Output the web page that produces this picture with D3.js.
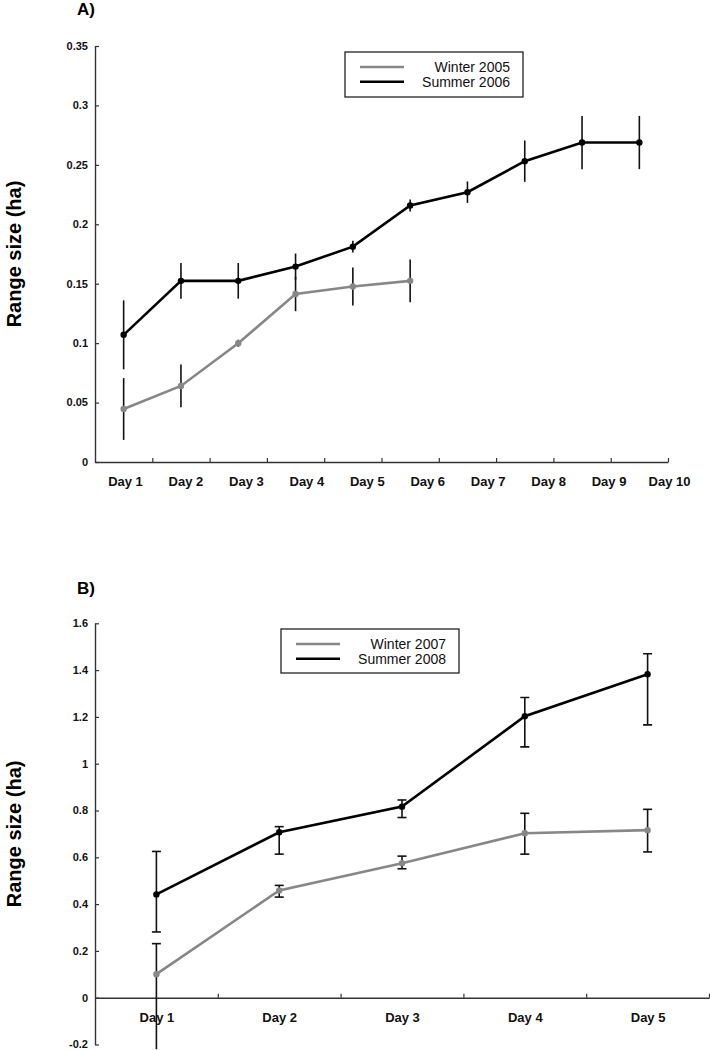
<!DOCTYPE html>
<html>
<head>
<meta charset="utf-8">
<script src="https://cdn.jsdelivr.net/npm/d3@7"></script>
<style>
  body { margin: 0; background: #fff; }
  svg { display: block; font-family: "Liberation Sans", Arial, sans-serif; }
</style>
</head>
<body>
<svg id="chart" width="710" height="1050"></svg>
<script>
// ---------- Panel A data ----------
const daysA = ["Day 1","Day 2","Day 3","Day 4","Day 5","Day 6","Day 7","Day 8","Day 9","Day 10"];
const winter2005 = [0.0446, 0.064, 0.0999, 0.1414, 0.1476, 0.1524];
const winter2005Err = [0.026, 0.018, 0.003, 0.0145, 0.016, 0.018];
const summer2006 = [0.107, 0.1524, 0.1524, 0.1644, 0.1812, 0.2158, 0.227, 0.2531, 0.2688, 0.2688];
const summer2006Err = [0.029, 0.015, 0.015, 0.011, 0.005, 0.005, 0.009, 0.0174, 0.0224, 0.0224];
const yTicksA = [0, 0.05, 0.1, 0.15, 0.2, 0.25, 0.3, 0.35];

// ---------- Panel B data ----------
const daysB = ["Day 1","Day 2","Day 3","Day 4","Day 5"];
const winter2007 = [0.1006, 0.4585, 0.575, 0.703, 0.716];
const winter2007Hi = [0.231, 0.48, 0.605, 0.788, 0.805];
const winter2007Lo = [-0.22, 0.43, 0.551, 0.6135, 0.623];
const summer2008 = [0.4415, 0.707, 0.8165, 1.203, 1.382];
const summer2008Hi = [0.625, 0.731, 0.845, 1.2826, 1.47];
const summer2008Lo = [0.281, 0.6135, 0.77, 1.072, 1.166];
const yTicksB = [-0.2, 0, 0.2, 0.4, 0.6, 0.8, 1, 1.2, 1.4, 1.6];

const GRAY = "#878787", BLACK = "#000", AXIS = "#333";
const fmt = d => d === 0 ? "0" : String(+d.toFixed(2));

const svg = d3.select("#chart");

function styleAxis(g) {
  g.selectAll("path.domain").attr("stroke", AXIS).attr("stroke-width", 1.4);
  g.selectAll(".tick line").attr("stroke", AXIS).attr("stroke-width", 1.2);
  g.selectAll(".tick text").attr("fill", "#111");
}

function panel(cfg) {
  const g = svg.append("g");
  const x = d3.scaleBand().domain(cfg.days).range(cfg.xRange);
  const xTickScale = d3.scaleLinear().domain([0, cfg.days.length]).range(cfg.xRange);
  const xLabel = d3.scalePoint().domain(cfg.days).range(cfg.labelRange);
  const y = d3.scaleLinear().domain(cfg.yDomain).range(cfg.yRange);
  const cx = d => x(d) + x.bandwidth() / 2;
  const axisY = y(0);

  // clip for error bars that fall off the plot
  const clipId = "clip" + cfg.id;
  g.append("clipPath").attr("id", clipId).append("rect")
    .attr("x", cfg.xRange[0] - 10).attr("y", cfg.yRange[1] - 10)
    .attr("width", cfg.xRange[1] - cfg.xRange[0] + 20)
    .attr("height", cfg.yRange[0] - cfg.yRange[1] + 16);

  // Y axis
  const ya = g.append("g").attr("transform", `translate(${cfg.xRange[0]},0)`)
    .call(d3.axisLeft(y).tickValues(cfg.yTicks).tickFormat(fmt)
      .tickSizeInner(-4).tickSizeOuter(0).tickPadding(7));
  ya.selectAll(".tick text").attr("font-size", 11).attr("font-weight", "bold").attr("dy", "0.3em");
  styleAxis(ya);

  // X axis (ticks at band boundaries)
  const xa = g.append("g").attr("transform", `translate(0,${axisY})`)
    .call(d3.axisBottom(xTickScale).tickValues(d3.range(1, cfg.days.length + 1))
      .tickFormat("").tickSizeInner(-4).tickSizeOuter(0));
  styleAxis(xa);
  // X labels
  const xl = g.append("g").attr("transform", `translate(0,${axisY})`)
    .call(d3.axisBottom(xLabel).tickSize(0).tickPadding(cfg.labelPad));
  xl.select("path.domain").remove();
  xl.selectAll(".tick text").attr("font-size", 13).attr("font-weight", "bold").attr("fill", "#111");

  // Series
  cfg.series.forEach(s => {
    const pts = s.values.map((v, i) => ({ d: cfg.days[i], v, hi: s.hi[i], lo: s.lo[i] }));
    const eb = g.append("g").attr("clip-path", `url(#${clipId})`);
    eb.selectAll("line.eb").data(pts).join("line")
      .attr("x1", p => cx(p.d)).attr("x2", p => cx(p.d))
      .attr("y1", p => y(p.hi)).attr("y2", p => y(p.lo))
      .attr("stroke", "#111").attr("stroke-width", 1.6);
    if (cfg.caps) {
      const caps = [];
      pts.forEach(p => { caps.push({ d: p.d, v: p.hi }); caps.push({ d: p.d, v: p.lo }); });
      eb.selectAll("line.cap").data(caps.filter(c => c.v >= cfg.yDomain[0])).join("line")
        .attr("x1", c => cx(c.d) - 4.5).attr("x2", c => cx(c.d) + 4.5)
        .attr("y1", c => y(c.v)).attr("y2", c => y(c.v))
        .attr("stroke", "#111").attr("stroke-width", 1.6);
    }
    g.append("path").datum(pts)
      .attr("fill", "none").attr("stroke", s.color).attr("stroke-width", 2.6)
      .attr("d", d3.line().x(p => cx(p.d)).y(p => y(p.v)));
    g.selectAll(null).data(pts).join("circle")
      .attr("cx", p => cx(p.d)).attr("cy", p => y(p.v)).attr("r", 3.2)
      .attr("fill", s.color);
  });

  // Panel title
  g.append("text").attr("x", 77).attr("y", cfg.titleY)
    .attr("font-size", 17).attr("font-weight", "bold").text(cfg.title);

  // Y label
  const ymid = (cfg.yRange[0] + cfg.yRange[1]) / 2 + cfg.ylabelShift;
  g.append("text").attr("transform", `translate(21,${ymid}) rotate(-90)`)
    .attr("text-anchor", "middle").attr("font-size", 20).attr("font-weight", "bold")
    .text("Range size (ha)");

  // Legend
  const L = cfg.legend;
  g.append("rect").attr("x", L.x).attr("y", L.y).attr("width", L.w).attr("height", L.h)
    .attr("fill", "#fff").attr("stroke", "#222").attr("stroke-width", 1.3);
  cfg.series.forEach((s, i) => {
    const ly = L.y + 15 + i * 14.7;
    g.append("line").attr("x1", L.x + 15).attr("x2", L.x + 59)
      .attr("y1", ly).attr("y2", ly).attr("stroke", s.color).attr("stroke-width", 2.4);
    g.append("text").attr("x", L.x + L.w - 13).attr("y", ly + 5)
      .attr("text-anchor", "end").attr("font-size", 14).attr("fill", "#111").text(s.name);
  });
}

panel({
  id: "A", title: "A)", titleY: 15, days: daysA,
  xRange: [95, 668], labelRange: [125, 669], labelPad: 15,
  yDomain: [0, 0.35], yRange: [462, 46], yTicks: yTicksA, ylabelShift: 0,
  caps: false,
  legend: { x: 345, y: 52, w: 178, h: 45 },
  series: [
    { name: "Winter 2005", color: GRAY, values: winter2005,
      hi: winter2005.map((v, i) => v + winter2005Err[i]), lo: winter2005.map((v, i) => v - winter2005Err[i]) },
    { name: "Summer 2006", color: BLACK, values: summer2006,
      hi: summer2006.map((v, i) => v + summer2006Err[i]), lo: summer2006.map((v, i) => v - summer2006Err[i]) }
  ]
});

panel({
  id: "B", title: "B)", titleY: 594, days: daysB,
  xRange: [95, 709], labelRange: [156.4, 647.6], labelPad: 15,
  yDomain: [-0.2, 1.6], yRange: [1044.5, 623.3], yTicks: yTicksB, ylabelShift: 0,
  caps: true,
  legend: { x: 281, y: 629, w: 178, h: 44 },
  series: [
    { name: "Winter 2007", color: GRAY, values: winter2007, hi: winter2007Hi, lo: winter2007Lo },
    { name: "Summer 2008", color: BLACK, values: summer2008, hi: summer2008Hi, lo: summer2008Lo }
  ]
});
</script>
</body>
</html>
